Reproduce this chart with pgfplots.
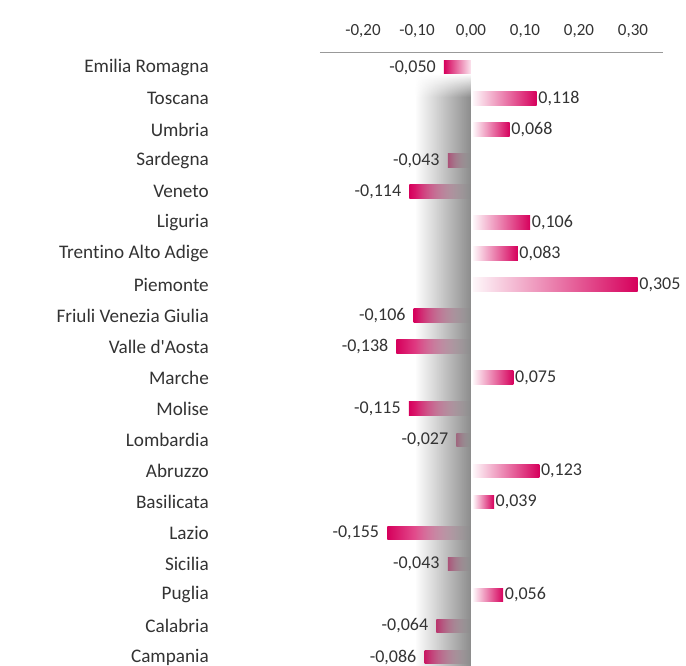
\documentclass[border=0pt]{standalone}
\usepackage{fontspec}
\setmainfont{Carlito}[Ligatures=NoCommon]
\usepackage{pgfplots}
\pgfplotsset{compat=1.18}
\usetikzlibrary{fadings}
\definecolor{crim}{RGB}{214,0,92}
\definecolor{txt}{RGB}{51,51,51}
\tikzfading[name=shfade, left color=transparent!100, right color=transparent!0]
\tikzfading[name=topfade, top color=transparent!0, bottom color=transparent!100]

\begin{document}
\begin{tikzpicture}
\begin{axis}[
 scale only axis, width=343pt, height=614pt,
 xmin=-0.2796, xmax=0.3556, ymin=-0.5, ymax=19.29, y dir=reverse,
 axis x line*=top, axis y line*=left,
 x axis line style={-, draw=black!40, line width=0.8pt},
 y axis line style={draw=none},
 major tick length=0pt,
 xtick={-0.2,-0.1,0,0.1,0.2,0.3},
 ytick={0,...,19},
 yticklabels={Emilia Romagna,Toscana,Umbria,Sardegna,Veneto,Liguria,Trentino Alto Adige,Piemonte,Friuli Venezia Giulia,Valle d\textquotesingle Aosta,Marche,Molise,Lombardia,Abruzzo,Basilicata,Lazio,Sicilia,Puglia,Calabria,Campania},
 /pgf/number format/assume math mode=true,
 /pgf/number format/use comma,
 /pgf/number format/fixed,
 /pgf/number format/fixed zerofill,
 xticklabel style={font=\fontsize{17}{20}\selectfont, text=txt, yshift=11pt, /pgf/number format/precision=2},
 yticklabel style={font=\fontsize{19.2}{22}\selectfont, text=txt, inner sep=0pt, xshift=-111pt},
 xbar, bar width=13.6pt, bar shift=0pt,
 nodes near coords,
 every node near coord/.append style={font=\fontsize{18}{21}\selectfont, text=txt, /pgf/number format/precision=3},
 posbar/.style={draw=none, left color=crim!3, right color=crim, xshift=2pt,
   every node near coord/.append style={anchor=west, inner sep=1.5pt}},
 negbar/.style={draw=none, left color=crim, right color=crim!10,
   every node near coord/.append style={anchor=east, inner sep=8pt}},
 clip=false,
]
\addplot[negbar] coordinates {(-0.050,0)};
\addplot[posbar] coordinates {(0.118,1)};
\addplot[posbar] coordinates {(0.068,2)};
\addplot[negbar] coordinates {(-0.043,3)};
\addplot[negbar] coordinates {(-0.114,4)};
\addplot[posbar] coordinates {(0.106,5)};
\addplot[posbar] coordinates {(0.083,6)};
\addplot[posbar] coordinates {(0.305,7)};
\addplot[negbar] coordinates {(-0.106,8)};
\addplot[negbar] coordinates {(-0.138,9)};
\addplot[posbar] coordinates {(0.075,10)};
\addplot[negbar] coordinates {(-0.115,11)};
\addplot[negbar] coordinates {(-0.027,12)};
\addplot[posbar] coordinates {(0.123,13)};
\addplot[posbar] coordinates {(0.039,14)};
\addplot[negbar] coordinates {(-0.155,15)};
\addplot[negbar] coordinates {(-0.043,16)};
\addplot[posbar] coordinates {(0.056,17)};
\addplot[negbar] coordinates {(-0.064,18)};
\addplot[negbar] coordinates {(-0.086,19)};
\fill[black!45, path fading=shfade] (axis cs:-0.104,0.2) rectangle (axis cs:0,19.29);
\fill[white, path fading=topfade] (axis cs:-0.106,0.2) rectangle (axis cs:0.001,0.95);
\coordinate (tl) at (axis cs:-0.2796,-0.5);
\coordinate (br) at (axis cs:0.3556,19.29);
\end{axis}
\pgfresetboundingbox
\useasboundingbox ([xshift=-320pt,yshift=52pt]tl) rectangle ([xshift=23pt]br);
\end{tikzpicture}
\end{document}
